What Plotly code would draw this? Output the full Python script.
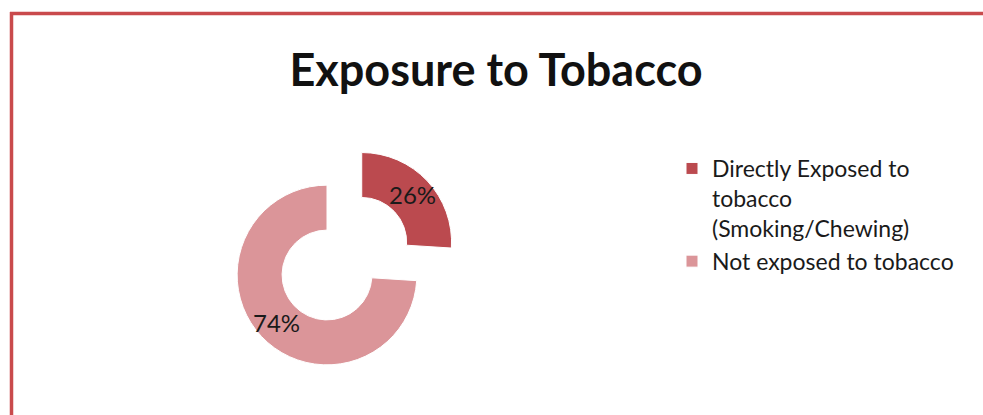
import math
import plotly.graph_objects as go

# Share of respondents by tobacco exposure
categories = ["Directly Exposed to<br>tobacco<br>(Smoking/Chewing)", "Not exposed to tobacco"]
shares = [26, 74]
slice_colors = ["#BB4A4F", "#DB9599"]
slice_pull = [0.53, 0]

W, H = 983, 415
HOLE = 0.5

# Donut placement in page pixels
cx, cy, box = 327, 275, 275
dom_x = [(cx - box / 2) / W, (cx + box / 2) / W]
dom_y = [1 - (cy + box / 2) / H, 1 - (cy - box / 2) / H]
radius = box / 2 / (1 + max(slice_pull))

fig = go.Figure(
    go.Pie(
        labels=categories,
        values=shares,
        hole=HOLE,
        sort=False,
        direction="clockwise",
        rotation=0,
        pull=slice_pull,
        marker=dict(colors=slice_colors, line=dict(color="white", width=1)),
        textinfo="none",
        domain=dict(x=dom_x, y=dom_y),
        showlegend=True,
    )
)

# Percentage labels placed at each slice's mid-angle, just outside mid-ring
total = sum(shares)
start = 0.0
for value, pull in zip(shares, slice_pull):
    frac = value / total
    mid = math.radians((start + frac / 2) * 360)
    start += frac
    ox = cx + pull * radius * math.sin(mid)
    oy = cy - pull * radius * math.cos(mid)
    r_mid = radius * (1 + HOLE) / 2 + 2
    px = ox + r_mid * math.sin(mid)
    py = oy - r_mid * math.cos(mid)
    fig.add_annotation(
        x=px / W, y=1 - py / H, xref="paper", yref="paper",
        xanchor="center", yanchor="middle",
        text=f"{value}%", showarrow=False,
        font=dict(family="Lato", size=24, color="#1a1a1a"),
    )

# Red frame along the top and left edges
frame_color = "#C94A4C"
fig.add_shape(type="line", xref="paper", yref="paper",
              x0=10 / W, x1=1.0, y0=1 - 13.5 / H, y1=1 - 13.5 / H,
              line=dict(color=frame_color, width=3.5))
fig.add_shape(type="line", xref="paper", yref="paper",
              x0=11.5 / W, x1=11.5 / W, y0=0, y1=1 - 12 / H,
              line=dict(color=frame_color, width=3.5))

fig.update_layout(
    width=W,
    height=H,
    margin=dict(l=0, r=0, t=0, b=0),
    paper_bgcolor="white",
    plot_bgcolor="white",
    title=dict(
        text="<b>Exposure to Tobacco</b>",
        x=496 / W,
        xanchor="center",
        y=1 - 70 / H,
        yanchor="middle",
        yref="container",
        font=dict(family="Lato", size=45, color="#111111"),
    ),
    legend=dict(
        x=672 / W,
        xanchor="left",
        y=1 - 147 / H,
        yanchor="top",
        valign="top",
        font=dict(family="Lato", size=23, color="#1a1a1a"),
        bgcolor="rgba(0,0,0,0)",
    ),
)

fig.write_html("out.html")
